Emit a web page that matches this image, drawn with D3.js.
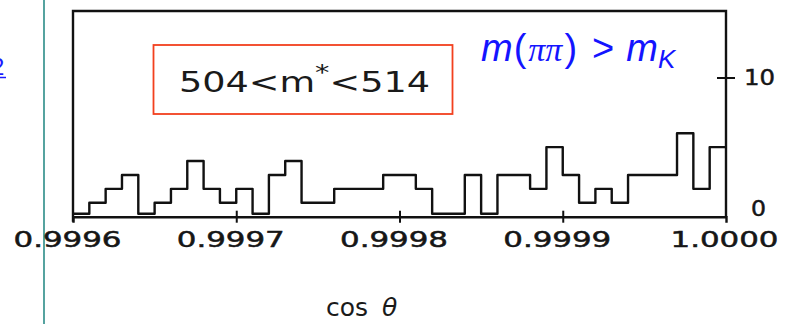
<!DOCTYPE html>
<html>
<head>
<meta charset="utf-8">
<script src="https://cdn.jsdelivr.net/npm/d3@7"></script>
<style>
  html, body { margin: 0; padding: 0; background: #fff; }
  svg { display: block; }
  .frame { fill: none; stroke: #111; stroke-width: 2.4; }
  .tick-label { font-family: "DejaVu Sans", sans-serif; fill: #161616; stroke: #161616; stroke-width: 0.5; }
</style>
</head>
<body>
<svg width="787" height="324"></svg>
<script>

// counts per bin, 40 bins of 0.00001 from 0.9996 to 1.0000
var counts = [0, 1, 2, 3, 0, 1, 2, 4, 2, 1,
              2, 0, 3, 4, 1, 1, 2, 2, 2, 3,
              3, 2, 0, 0, 3, 0, 3, 3, 2, 5,
              3, 1, 2, 1, 3, 3, 3, 6, 2, 5];
var binStart = 0.9996,
    binWidth = 0.00001;
var xTicks = [0.9996, 0.9997, 0.9998, 0.9999, 1.0000];
var yTicks = [0, 10];

var width = 787,
    height = 324;

var svg = d3.select('svg');

var x = d3.scaleLinear().domain([0.9996, 1.0000]).range([73, 726]);
var y = d3.scaleLinear().domain([0, 10]).range([216.7, 77.5]);

// teal divider on the left
svg.append('line')
    .attr('x1', 44).attr('x2', 44)
    .attr('y1', 0).attr('y2', height)
    .attr('stroke', '#2b8c88')
    .attr('stroke-width', 1.6);

// cut-off blue link "2" (clipped by the page edge, as in the source)
svg.append('text')
    .attr('x', -9).attr('y', 75)
    .attr('font-family', 'Liberation Sans, sans-serif')
    .attr('font-size', 24)
    .attr('fill', '#1a1aff')
    .text('2');
svg.append('line')
    .attr('x1', 0).attr('x2', 6)
    .attr('y1', 77.5).attr('y2', 77.5)
    .attr('stroke', '#1a1aff')
    .attr('stroke-width', 1.5);

// plot frame
var g = svg.append('g');

g.append('path')
    .attr('class', 'frame')
    .attr('d', 'M' + x(0.9996) + ',' + (y(0) + 5) +
               'V11H' + x(1.0000) + 'V' + y(0));

// bottom axis
var xAxis = d3.axisBottom(x)
    .tickValues(xTicks)
    .tickSize(6)
    .tickFormat(d3.format('.4f'));

var gx = g.append('g')
    .attr('transform', 'translate(0,' + y(0) + ')')
    .call(xAxis);
gx.select('.domain').attr('stroke', '#111').attr('stroke-width', 2.4);
gx.selectAll('.tick line')
    .attr('y1', -6).attr('y2', 6)
    .attr('stroke', '#111').attr('stroke-width', 2);
gx.selectAll('.tick').filter(function(d) { return d === 0.9996 || d === 1.0000; })
    .select('line').remove();
gx.selectAll('.tick text')
    .attr('class', 'tick-label')
    .attr('font-size', 22)
    .attr('y', 15)
    .attr('dy', '0.71em')
    .attr('x', function(d) { return d === 1.0000 ? -2 : -6; })
    .attr('textLength', 108)
    .attr('lengthAdjust', 'spacingAndGlyphs');

// right axis
var yAxis = d3.axisRight(y)
    .tickValues(yTicks)
    .tickSize(9)
    .tickFormat(d3.format('d'));

var gy = g.append('g')
    .attr('transform', 'translate(' + x(1.0000) + ',0)')
    .call(yAxis);
gy.select('.domain').remove();
gy.selectAll('.tick line')
    .attr('x1', -9)
    .attr('stroke', '#111').attr('stroke-width', 2)
    .filter(function(d) { return d === 0; }).remove();
gy.selectAll('.tick text')
    .attr('class', 'tick-label')
    .attr('font-size', 22)
    .attr('x', function(d) { return d === 0 ? 25 : 18; })
    .attr('dy', function(d) { return d === 0 ? '-0.05em' : '0.32em'; })
    .attr('textLength', function(d) { return d === 0 ? 15 : 31; })
    .attr('lengthAdjust', 'spacingAndGlyphs');

// histogram
var pts = counts.map(function(c, i) { return [binStart + i * binWidth, c]; });
pts.push([binStart + counts.length * binWidth, counts[counts.length - 1]]);

var hist = d3.line()
    .x(function(d) { return x(d[0]); })
    .y(function(d) { return d[1] === 0 ? y(0) - 3 : y(d[1]); })
    .curve(d3.curveStepAfter);

g.append('path')
    .attr('d', hist(pts))
    .attr('fill', 'none')
    .attr('stroke', '#111')
    .attr('stroke-width', 2.4)
    .attr('stroke-linejoin', 'round');

// red box with cut label
svg.append('rect')
    .attr('x', 153.5).attr('y', 45)
    .attr('width', 299).attr('height', 69)
    .attr('fill', 'none')
    .attr('stroke', '#f2401e')
    .attr('stroke-width', 1.8);

var cut = svg.append('text')
    .attr('x', 179).attr('y', 92)
    .attr('font-family', 'DejaVu Sans, sans-serif')
    .attr('font-size', 28)
    .attr('fill', '#1a1a1a')
    .attr('textLength', 251)
    .attr('lengthAdjust', 'spacingAndGlyphs');
cut.append('tspan').text('504<m');
cut.append('tspan').attr('dy', -12).attr('font-size', 22).text('*');
cut.append('tspan').attr('dy', 12).text('<514');

// blue mass condition
var cond = svg.append('text')
    .attr('x', 481).attr('y', 61)
    .attr('font-family', 'Liberation Sans, Arial, sans-serif')
    .attr('font-size', 38)
    .attr('fill', '#1414ff');
cond.append('tspan').attr('font-style', 'italic').text('m');
cond.append('tspan').attr('dx', 1).text('(');
cond.append('tspan').attr('dx', 2).attr('font-family', 'Liberation Serif, serif')
    .attr('font-style', 'italic').attr('font-size', 34).text('\u03c0\u03c0');
cond.append('tspan').attr('dx', 2).text(')');
cond.append('tspan').attr('dx', 15).text('>');
cond.append('tspan').attr('dx', 12).attr('font-style', 'italic').text('m');
cond.append('tspan').attr('dy', 7).attr('font-style', 'italic').attr('font-size', 26).text('K');

// x axis title
var xt = svg.append('text')
    .attr('x', 326).attr('y', 316)
    .attr('font-family', 'DejaVu Sans, sans-serif')
    .attr('font-size', 25)
    .attr('fill', '#1a1a1a');
xt.append('tspan').text('cos');
xt.append('tspan').attr('dx', 14).attr('font-style', 'italic').text('\u03b8');

</script>
</body>
</html>
